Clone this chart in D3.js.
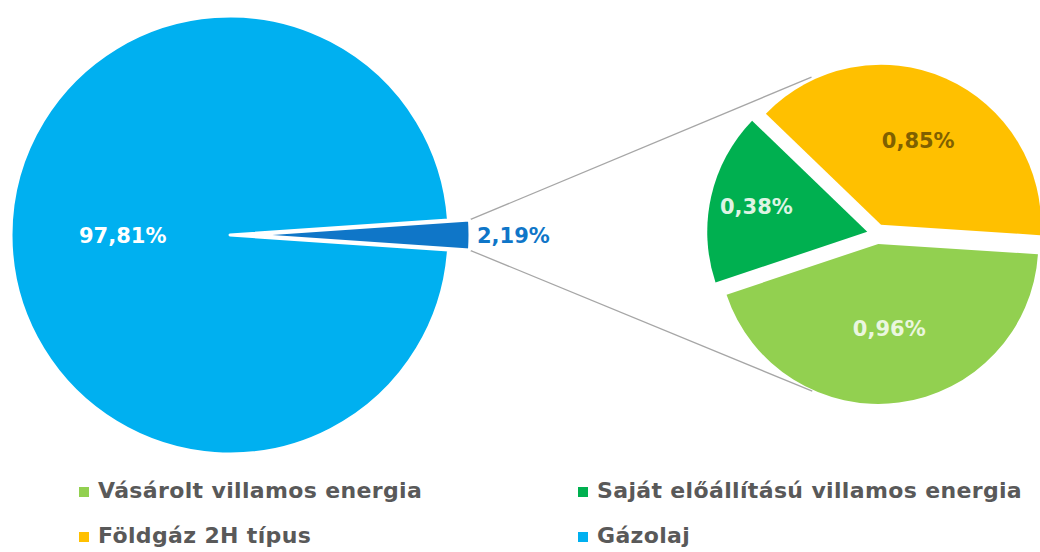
<!DOCTYPE html>
<html>
<head>
<meta charset="utf-8">
<script src="https://cdn.jsdelivr.net/npm/d3@7"></script>
<style>
  html, body { margin: 0; padding: 0; background: #fff; }
  svg { display: block; font-family: 'DejaVu Sans', sans-serif; font-weight: bold; }
</style>
</head>
<body>
<div id="chart"></div>
<script>
// fő kör: gázolaj + a többi (ez megy a kis körbe)
const mainLabels = ['Egyéb energia', 'Gázolaj']
const mainValues = [2.19, 97.81]
const mainColors = ['#0F76C8', '#00B0F0']

// kis kör
const subLabels = ['Vásárolt villamos energia', 'Saját előállítású villamos energia', 'Földgáz 2H típus']
const subValues = [0.96, 0.38, 0.85]
const subColors = ['#92D050', '#00B050', '#FFC000']
const subTextColors = ['#EAF6DF', '#DDF4E3', '#7F6000']

// jelmagyarázat
const legendLabels = ['Vásárolt villamos energia', 'Saját előállítású villamos energia', 'Földgáz 2H típus', 'Gázolaj']
const legendColors = ['#92D050', '#00B050', '#FFC000', '#00B0F0']

const width = 1040
const height = 552

const fmt = v => d3.format('.2f')(v).replace('.', ',') + '%'

const svg = d3.select('#chart')
  .append('svg')
  .attr('width', width)
  .attr('height', height)
  .attr('viewBox', [0, 0, width, height])

// --- fő kör ---
const main = { cx: 230, cy: 235, r: 219, explode: 21 }
const share = mainValues[0] / d3.sum(mainValues)
const mainStart = Math.PI / 2 - share * Math.PI

const mainPie = d3.pie().sort(null).value(d => d)
  .startAngle(mainStart)
  .endAngle(mainStart + 2 * Math.PI)
const mainArcs = mainPie(mainValues)
const mainArc = d3.arc().innerRadius(0).outerRadius(main.r)

const mid = d => (d.startAngle + d.endAngle) / 2
const offset = (d, k) => [Math.sin(mid(d)) * k, -Math.cos(mid(d)) * k]

// --- kis kör ---
const sub = { cx: 877, cy: 234, r: 160, explode: 10 }
const subStart = 93.7 * Math.PI / 180
const subPie = d3.pie().sort(null).value(d => d)
  .startAngle(subStart)
  .endAngle(subStart + 2 * Math.PI)
const subArcs = subPie(subValues)
const subArc = d3.arc().innerRadius(0).outerRadius(sub.r)

// címke a körcikk súlypontja felé, kicsit kijjebb tolva
function labelPos(d) {
  const half = (d.endAngle - d.startAngle) / 2
  const dist = 1.12 * 2 * sub.r * Math.sin(half) / (3 * half)
  return [Math.sin(mid(d)) * dist, -Math.cos(mid(d)) * dist]
}

// összekötő vonalak: a kiemelt szelet sarkaiból érintő a kis körhöz
const hi = mainArcs[0]
const [hx, hy] = offset(hi, main.explode)
const corners = [hi.startAngle, hi.endAngle].map(a => [
  main.cx + hx + Math.sin(a) * main.r,
  main.cy + hy - Math.cos(a) * main.r
])
const R = sub.r + sub.explode
const links = corners.map((p, i) => {
  const dx = p[0] - sub.cx
  const dy = p[1] - sub.cy
  const D = Math.hypot(dx, dy)
  const t = Math.atan2(dy, dx) + (i === 0 ? 1 : -1) * Math.acos(R / D)
  return { x1: p[0], y1: p[1], x2: sub.cx + Math.cos(t) * R, y2: sub.cy + Math.sin(t) * R }
})

svg.append('g')
  .attr('stroke', '#A6A6A6')
  .attr('stroke-width', 1.3)
  .selectAll('line')
  .data(links)
  .join('line')
  .attr('x1', d => d.x1)
  .attr('y1', d => d.y1)
  .attr('x2', d => d.x2)
  .attr('y2', d => d.y2)

const gMain = svg.append('g').attr('transform', `translate(${main.cx},${main.cy})`)

gMain.selectAll('path')
  .data(mainArcs)
  .join('path')
  .attr('d', mainArc)
  .attr('fill', (d, i) => mainColors[i])
  .attr('stroke', '#fff')
  .attr('stroke-width', 3)
  .attr('stroke-linejoin', 'round')
  .attr('transform', (d, i) => {
    const [ox, oy] = i === 0 ? offset(d, main.explode) : [0, 0]
    return `translate(${ox},${oy})`
  })

// 97,81% a kör belsejében
const big = mainArcs[1]
gMain.append('text')
  .attr('x', Math.sin(mid(big)) * main.r * 0.49)
  .attr('y', -Math.cos(mid(big)) * main.r * 0.49)
  .attr('dy', '0.36em')
  .attr('text-anchor', 'middle')
  .attr('fill', '#fff')
  .attr('font-size', '21px')
  .text(fmt(mainValues[1]))

// 2,19% a kiemelt szelet mellett
gMain.append('text')
  .attr('x', hx + Math.sin(mid(hi)) * main.r + 7)
  .attr('y', hy - Math.cos(mid(hi)) * main.r)
  .attr('dy', '0.36em')
  .attr('text-anchor', 'start')
  .attr('fill', mainColors[0])
  .attr('font-size', '21px')
  .text(fmt(mainValues[0]))

const gSub = svg.append('g').attr('transform', `translate(${sub.cx},${sub.cy})`)

const subSlices = gSub.selectAll('g.slice')
  .data(subArcs)
  .join('g')
  .attr('class', 'slice')
  .attr('transform', d => {
    const [ox, oy] = offset(d, sub.explode)
    return `translate(${ox},${oy})`
  })

subSlices.append('path')
  .attr('d', subArc)
  .attr('fill', (d, i) => subColors[i])

subSlices.append('text')
  .attr('transform', d => `translate(${labelPos(d)})`)
  .attr('dy', '0.36em')
  .attr('text-anchor', 'middle')
  .attr('fill', (d, i) => subTextColors[i])
  .attr('font-size', '21px')
  .text(d => fmt(d.data))

// --- jelmagyarázat ---
const legendX = [79, 578]
const legendY = [498, 543]

const legend = svg.append('g')
  .selectAll('g')
  .data(legendLabels)
  .join('g')
  .attr('transform', (d, i) => `translate(${legendX[i % 2]},${legendY[Math.floor(i / 2)]})`)

legend.append('rect')
  .attr('y', -11)
  .attr('width', 10)
  .attr('height', 10)
  .attr('fill', (d, i) => legendColors[i])

legend.append('text')
  .attr('x', 19)
  .attr('fill', '#595959')
  .attr('font-size', '22px')
  .attr('letter-spacing', '0.35px')
  .text(d => d)
</script>
</body>
</html>
